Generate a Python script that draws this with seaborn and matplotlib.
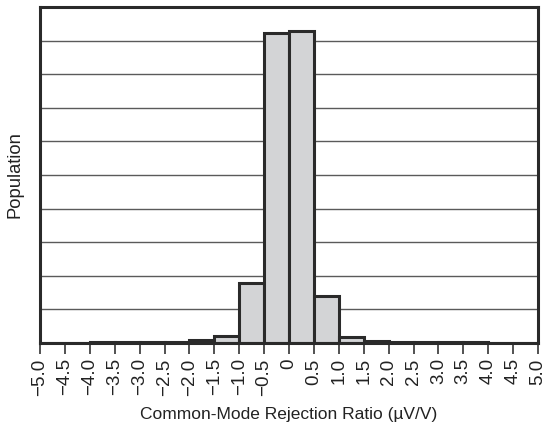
import matplotlib
matplotlib.use("Agg")
import matplotlib.pyplot as plt
import seaborn as sns
import numpy as np

# Data
bin_edges = [-5.0, -4.5, -4.0, -3.5, -3.0, -2.5, -2.0, -1.5, -1.0, -0.5, 0.0,
             0.5, 1.0, 1.5, 2.0, 2.5, 3.0, 3.5, 4.0, 4.5, 5.0]
bin_centers = [-4.75, -4.25, -3.75, -3.25, -2.75, -2.25, -1.75, -1.25, -0.75, -0.25,
               0.25, 0.75, 1.25, 1.75, 2.25, 2.75, 3.25, 3.75, 4.25, 4.75]
population = [0.0, 0.0, 0.03, 0.03, 0.04, 0.03, 0.08, 0.22, 1.80, 9.23,
              9.30, 1.40, 0.19, 0.07, 0.03, 0.03, 0.02, 0.02, 0.0, 0.0]
tick_values = [-5.0, -4.5, -4.0, -3.5, -3.0, -2.5, -2.0, -1.5, -1.0, -0.5, 0.0,
               0.5, 1.0, 1.5, 2.0, 2.5, 3.0, 3.5, 4.0, 4.5, 5.0]
tick_labels = ["\u22125.0", "\u22124.5", "\u22124.0", "\u22123.5", "\u22123.0", "\u22122.5",
               "\u22122.0", "\u22121.5", "\u22121.0", "\u22120.5", "0", "0.5", "1.0", "1.5",
               "2.0", "2.5", "3.0", "3.5", "4.0", "4.5", "5.0"]

sns.set_theme(style="white")
plt.rcParams['font.family'] = ['Liberation Sans', 'DejaVu Sans']

fig = plt.figure(figsize=(5.43, 4.28), dpi=100)
ax = fig.add_axes([40/543, 85/428, 498/543, 336/428])

# grid lines
for yv in range(1, 10):
    ax.axhline(yv, color="#5a5a5a", lw=1.0, zorder=0)

sns.histplot(x=bin_centers, weights=population, bins=bin_edges, ax=ax,
             color="#d3d4d6", edgecolor="#2a2a2a", linewidth=2.2, alpha=1.0, zorder=2)

ax.set_xlim(-5, 5)
ax.set_ylim(0, 10)
ax.set_yticks([])
ax.set_xticks(tick_values)
ax.set_xticklabels(tick_labels, rotation=90, fontsize=13.5, color="#222222")
ax.tick_params(axis="x", direction="out", length=8, width=1.2, color="#333333", pad=3, bottom=True)
for s in ax.spines.values():
    s.set_color("#2a2a2a")
    s.set_linewidth(2.2)
ax.set_xlabel("Common-Mode Rejection Ratio (\u00b5V/V)", fontsize=12.5, color="#222222", labelpad=8)
ax.set_ylabel("Population", fontsize=13.2, color="#222222", labelpad=12)

fig.savefig("out.png", dpi=100)
